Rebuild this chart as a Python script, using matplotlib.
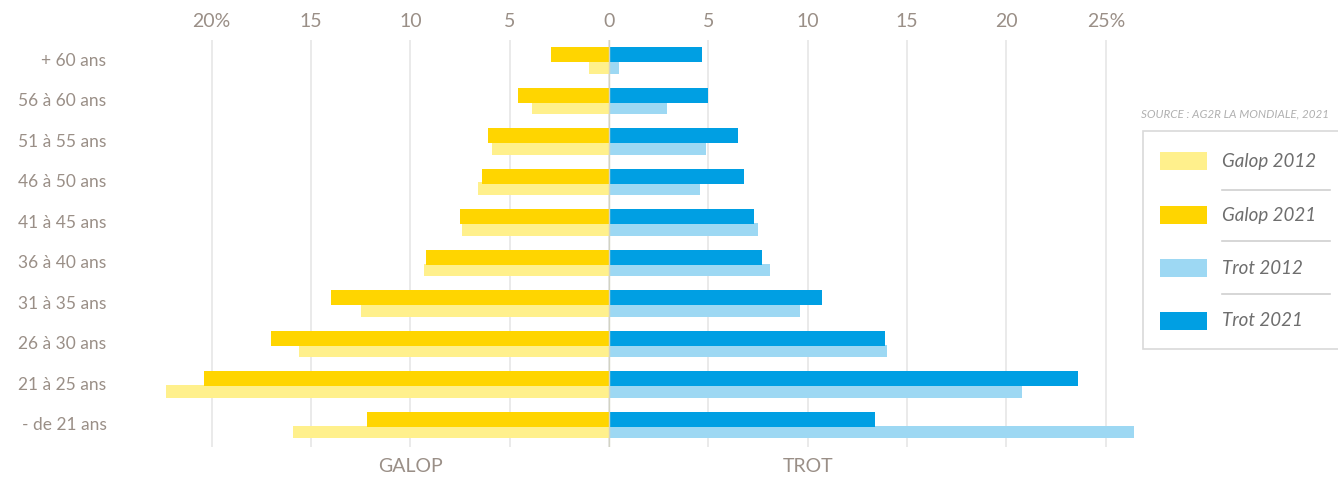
import matplotlib.pyplot as plt
from matplotlib.patches import Rectangle
from matplotlib.lines import Line2D
import numpy as np

# data (percent)
categories = ["+ 60 ans", "56 à 60 ans", "51 à 55 ans", "46 à 50 ans", "41 à 45 ans",
              "36 à 40 ans", "31 à 35 ans", "26 à 30 ans", "21 à 25 ans", "- de 21 ans"]
galop_2012 = [1.0, 3.9, 5.9, 6.6, 7.4, 9.3, 12.5, 15.6, 22.3, 15.9]
galop_2021 = [2.9, 4.6, 6.1, 6.4, 7.5, 9.2, 14.0, 17.0, 20.4, 12.2]
trot_2012 = [0.5, 2.9, 4.9, 4.6, 7.5, 8.1, 9.6, 14.0, 20.8, 26.4]
trot_2021 = [4.7, 5.0, 6.5, 6.8, 7.3, 7.7, 10.7, 13.9, 23.6, 13.4]
xticks = [-20, -15, -10, -5, 0, 5, 10, 15, 20, 25]
xticklabels = ["20%", "15", "10", "5", "0", "5", "10", "15", "20", "25%"]
legend_labels = ["Galop 2012", "Galop 2021", "Trot 2012", "Trot 2021"]

C_G12 = "#fff08c"
C_G21 = "#ffd500"
C_T12 = "#9dd8f3"
C_T21 = "#009fe3"
TXT = "#9a8f87"
GRID = "#e8e8e8"

plt.rcParams["font.family"] = ["Lato", "DejaVu Sans"]

W, H = 1338, 478
fig = plt.figure(figsize=(W / 100, H / 100), dpi=100)
fig.patch.set_facecolor("white")


def fx(px):
    return px / W


def fy(py):
    return 1 - py / H


ax = fig.add_axes([fx(162), fy(447), fx(1135.6) - fx(162), fy(40) - fy(447)])

y = np.arange(len(categories))
off = 0.32

# 2012 first, 2021 on top
ax.barh(y + off, [-v for v in galop_2012], height=0.32, color=C_G12, zorder=2)
ax.barh(y + off, trot_2012, height=0.32, color=C_T12, zorder=2)
ax.barh(y, [-v for v in galop_2021], height=0.37, color=C_G21, zorder=3)
ax.barh(y, trot_2021, height=0.37, color=C_T21, zorder=3)

ax.set_xlim(-22.5, 26.5)
ax.set_ylim(9.69, -0.358)

ax.set_xticks(xticks)
ax.set_xticklabels(xticklabels)
ax.xaxis.tick_top()
ax.tick_params(axis="x", length=0, pad=7, labelsize=14, labelcolor=TXT)
ax.grid(axis="x", color=GRID, linewidth=1.3, zorder=0)
ax.axvline(0, color="#d2d3c4", linewidth=1.0, zorder=4)

ax.set_yticks(y + 0.12)
ax.set_yticklabels(categories)
ax.tick_params(axis="y", length=0, pad=40, labelsize=12.5, labelcolor=TXT)

for s in ax.spines.values():
    s.set_visible(False)

ax.text(-10, -0.048, "GALOP", transform=ax.get_xaxis_transform(), ha="center", va="center",
        fontsize=14, color=TXT)
ax.text(10, -0.048, "TROT", transform=ax.get_xaxis_transform(), ha="center", va="center",
        fontsize=14, color=TXT)

# source
fig.text(fx(1141), fy(114), "SOURCE : AG2R LA MONDIALE, 2021", fontsize=8.4, style="italic",
         color="#b0b0b0", ha="left", va="center")

# legend box drawn by hand
fig.add_artist(Rectangle((fx(1143), fy(349)), fx(1345) - fx(1143), fy(131) - fy(349),
                         transform=fig.transFigure, facecolor="white", edgecolor="#d9d9d9",
                         linewidth=1.2))
leg_colors = [C_G12, C_G21, C_T12, C_T21]
leg_y = [161, 215, 268, 321]
for lab, col, py in zip(legend_labels, leg_colors, leg_y):
    fig.add_artist(Rectangle((fx(1160), fy(py + 9)), fx(47), 18 / H,
                             transform=fig.transFigure, facecolor=col, edgecolor="none"))
    fig.text(fx(1222), fy(py), lab, fontsize=13.5, style="italic",
             color="#6e6e6e", ha="left", va="center")
for py in [190, 241, 294]:
    fig.add_artist(Line2D([fx(1222), fx(1330)], [fy(py), fy(py)], transform=fig.transFigure,
                          color="#d0d0d0", linewidth=1.2))

fig.savefig("out.png", dpi=100, facecolor="white")
